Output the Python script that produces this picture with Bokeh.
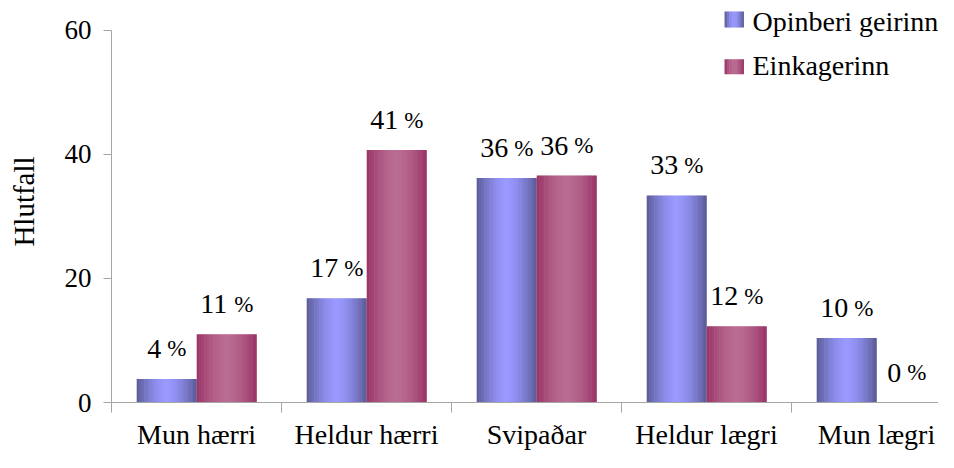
import numpy as np
from bokeh.plotting import figure
from bokeh.models import ColumnDataSource, FixedTicker, Range1d
from bokeh.core.properties import value
from bokeh.embed import file_html
from bokeh.resources import INLINE

# ---- data ----
categories = ["Mun hærri", "Heldur hærri", "Svipaðar", "Heldur lægri", "Mun lægri"]
series_names = ["Opinberi geirinn", "Einkagerinn"]
opinberi = [3.8, 16.8, 36.2, 33.4, 10.4]
einka = [11.0, 40.7, 36.6, 12.3, 0.0]
opinberi_labels = ["4", "17", "36", "33", "10"]
einka_labels = ["11", "41", "36", "12", "0"]
y_ticks = [0, 20, 40, 60]

# ---- style ----
FONT = "Liberation Serif"
BAR_W = 0.35
OFFSETS = [-0.175, 0.178]
BLUE = ((90, 90, 150), (153, 153, 255))
RED = ((153, 51, 102), (186, 108, 146))
N = 24

W, H = 938, 452
BL, BR, BT, BB = 111, 0, 0, 49
frame_w = W - BL - BR
frame_h = H - BT - BB            # frame spans canvas y 0..403
PX_PER_CAT = 170.0
PX_PER_UNIT = (frame_h - 30) / 60.0   # 60 sits 30px below the top
Y_END = frame_h / PX_PER_UNIT
TEXT_FIX = -10                   # svg text baseline correction


def grad_color(f, dark, light, p=1.6):
    t = abs(f - 0.5) * 2
    t = t ** p
    c = tuple(int(round(l + (d - l) * t)) for d, l in zip(dark, light))
    return "#%02x%02x%02x" % c


def strip_source(values, offset, colors):
    dark, light = colors
    xs, tops, cols = [], [], []
    for i, v in enumerate(values):
        for k in range(N):
            f = (k + 0.5) / N
            xs.append(i + offset - BAR_W / 2 + f * BAR_W)
            tops.append(v)
            cols.append(grad_color(f, dark, light))
    return ColumnDataSource(dict(x=xs, top=tops, color=cols))


p = figure(width=W, height=H,
           x_range=Range1d(-0.5, -0.5 + frame_w / PX_PER_CAT),
           y_range=Range1d(0, Y_END),
           output_backend="svg", toolbar_location=None,
           min_border_left=BL, min_border_right=BR,
           min_border_top=BT, min_border_bottom=BB)
p.outline_line_color = None
p.grid.visible = False
p.background_fill_color = "white"
p.border_fill_color = "white"

for vals, off, cols in [(opinberi, OFFSETS[0], BLUE), (einka, OFFSETS[1], RED)]:
    src = strip_source(vals, off, cols)
    # strips are drawn with a little overlap so no seams show
    p.vbar(x="x", top="top", bottom=0, width=BAR_W / N * 1.25,
           fill_color="color", line_color=None, source=src)

# data labels
DIG = 14.0
GAP = 6.0
PCT = 19.0
for vals, labs, off in [(opinberi, opinberi_labels, OFFSETS[0]), (einka, einka_labels, OFFSETS[1])]:
    xs = [i + off for i in range(len(vals))]
    tot = [DIG * len(l) + GAP + PCT for l in labs]
    src = ColumnDataSource(dict(
        x=xs, y=vals, num=labs, pct=["%"] * len(labs),
        xo_num=[-t / 2 for t in tot],
        xo_pct=[-t / 2 + DIG * len(l) + GAP for t, l in zip(tot, labs)],
    ))
    p.text(x="x", y="y", text="num", x_offset="xo_num", y_offset=-20 + TEXT_FIX,
           text_align="left", text_baseline="alphabetic",
           text_font=value(FONT), text_font_size="28px", text_color="black", source=src)
    p.text(x="x", y="y", text="pct", x_offset="xo_pct", y_offset=-20 + TEXT_FIX,
           text_align="left", text_baseline="alphabetic",
           text_font=value(FONT), text_font_size="23px", text_color="black", source=src)

AX = "#a6a6a6"
# y axis
ya = p.yaxis[0]
ya.ticker = FixedTicker(ticks=y_ticks)
ya.bounds = (0, 60)
ya.axis_line_color = AX
ya.major_tick_line_color = AX
ya.minor_tick_line_color = None
ya.major_tick_out = 8
ya.major_tick_in = 0
ya.major_label_standoff = 12
ya.major_label_text_font = FONT
ya.major_label_text_font_size = "27px"
ya.major_label_text_color = "black"
ya.axis_label = "Hlutfall"
ya.axis_label_text_font = FONT
ya.axis_label_text_font_size = "29px"
ya.axis_label_text_font_style = "normal"
ya.axis_label_text_color = "black"
ya.axis_label_standoff = 22

# x axis
xa = p.xaxis[0]
xa.ticker = FixedTicker(ticks=list(range(len(categories))),
                        minor_ticks=[i - 0.5 for i in range(len(categories) + 1)])
xa.major_label_overrides = {i: c for i, c in enumerate(categories)}
xa.axis_line_color = AX
xa.major_tick_line_color = None
xa.major_tick_out = 0
xa.major_tick_in = 0
xa.minor_tick_line_color = AX
xa.minor_tick_out = 10
xa.minor_tick_in = 0
xa.major_label_standoff = 6
xa.major_label_text_font = FONT
xa.major_label_text_font_size = "28px"
xa.major_label_text_color = "black"


# legend, drawn inside the frame (above the 60 line) in data coordinates
def dx(px):
    return -0.5 + (px - BL) / PX_PER_CAT


def dy(py):
    return (frame_h - py) / PX_PER_UNIT


LEG_X0, LEG_W, TXT_X = 724, 19, 752
rows = [(11, 27, 30.7), (59, 74, 75.0)]
for (top_c, bot_c, base_c), name, cols in zip(rows, series_names, [BLUE, RED]):
    nl = 8
    lefts = [dx(LEG_X0 + k * LEG_W / nl) for k in range(nl)]
    rights = [dx(LEG_X0 + (k + 1) * LEG_W / nl + 0.5) for k in range(nl)]
    colors = [grad_color((k + 0.5) / nl, *cols) for k in range(nl)]
    p.quad(left=lefts, right=rights, top=dy(top_c), bottom=dy(bot_c),
           fill_color=colors, line_color=None)
    p.text(x=[dx(TXT_X)], y=[dy(base_c)], text=[name], y_offset=TEXT_FIX,
           text_align="left", text_baseline="alphabetic",
           text_font=value(FONT), text_font_size="28px", text_color="black")

open("out.html", "w").write(file_html(p, INLINE))
